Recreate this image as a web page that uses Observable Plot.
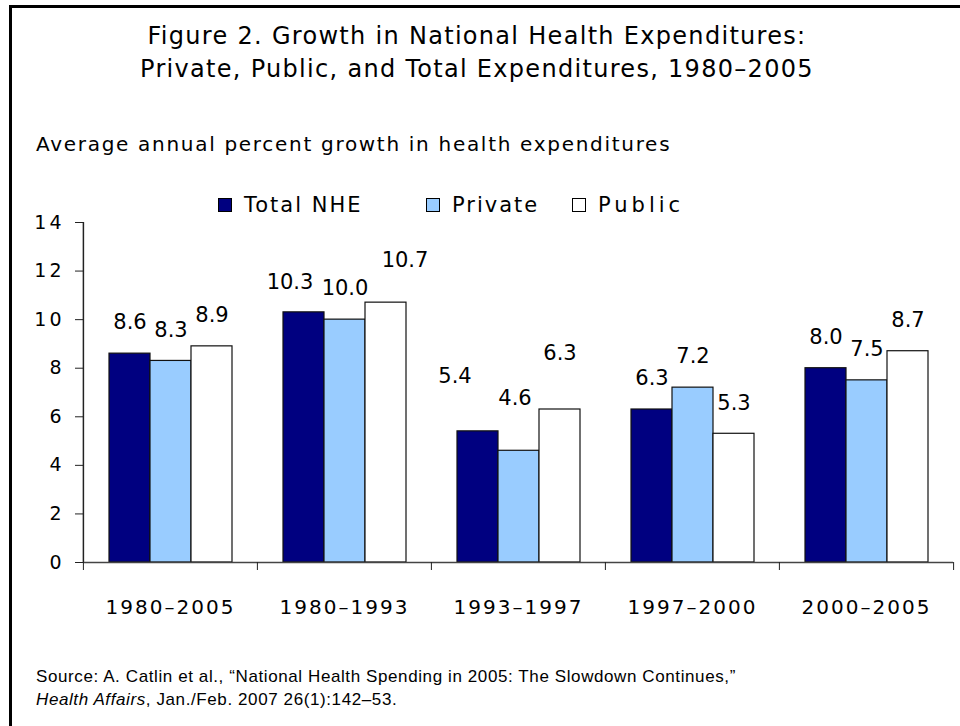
<!DOCTYPE html>
<html>
<head>
<meta charset="utf-8">
<script src="https://cdn.jsdelivr.net/npm/d3@7"></script>
<script src="https://cdn.jsdelivr.net/npm/@observablehq/plot@0.6"></script>
<style>
  html, body { margin: 0; padding: 0; background: #fff; }
  #page { position: relative; width: 960px; height: 726px; overflow: hidden; background: #fff; font-family: "DejaVu Sans", sans-serif; color: #000; }
  #frame { position: absolute; left: 9px; top: 5px; width: 980px; height: 760px; border-left: 3px solid #000; border-top: 3px solid #000; }
  #title { position: absolute; left: 0; top: 20px; width: 954px; text-align: center; font-size: 24px; line-height: 33px; letter-spacing: 1.3px; }
  #subtitle { position: absolute; left: 36px; top: 132px; font-size: 20px; letter-spacing: 1.7px; white-space: nowrap; }
  #legend { position: absolute; top: 193px; left: 0; height: 24px; width: 960px; font-size: 21px; letter-spacing: 2px; }
  .item { position: absolute; top: 0; display: flex; align-items: center; white-space: nowrap; }
  .sw { width: 12px; height: 12px; border: 1px solid #000; margin-right: 12px; }
  #chart { position: absolute; left: 0; top: 200px; }
  #source { position: absolute; left: 36px; top: 665px; font-family: "Liberation Sans", Arial, sans-serif; font-size: 17px; letter-spacing: 0.6px; line-height: 23px; white-space: nowrap; }
  .plot g[aria-label="fx-axis tick label"] text { letter-spacing: 2px; }
  .plot g[aria-label="y-axis tick label"] text { letter-spacing: 3px; }
</style>
</head>
<body>
<div id="page">
  <div id="frame"></div>
  <div id="title">Figure 2. Growth in National Health Expenditures:<br>Private, Public, and Total Expenditures, 1980–2005</div>
  <div id="subtitle">Average annual percent growth in health expenditures</div>
  <div id="legend"></div>
  <div id="chart"></div>
  <div id="source">Source: A. Catlin et al., “National Health Spending in 2005: The Slowdown Continues,”<br><i>Health Affairs</i>, Jan./Feb. 2007 26(1):142–53.</div>
</div>
<script>
// ---- data ----
const periods = ["1980–2005", "1980–1993", "1993–1997", "1997–2000", "2000–2005"];
const series = ["Total NHE", "Private", "Public"];
const totalNHE = [8.6, 10.3, 5.4, 6.3, 8.0];
const privateExp = [8.3, 10.0, 4.6, 7.2, 7.5];
const publicExp = [8.9, 10.7, 6.3, 5.3, 8.7];
const yTicks = [0, 2, 4, 6, 8, 10, 12, 14];
const colors = ["#000080", "#99CCFF", "#FFFFFF"];

const valuesBySeries = [totalNHE, privateExp, publicExp];
const data = [];
periods.forEach((p, i) => {
  series.forEach((s, j) => data.push({period: p, series: s, value: valuesBySeries[j][i]}));
});

// ---- label placement (styling only: the hand-placed labels of the original) ----
const nudgeOf = d => {
  if (d.period === "1980–1993" && d.series === "Public") return [19, -42];
  if (d.period === "1980–1993" && d.series === "Total NHE") return [-14, -30];
  if (d.period === "1993–1997" && d.series === "Total NHE") return [-23, -55];
  if (d.period === "1993–1997" && d.series === "Private") return [-4, -53];
  if (d.period === "1993–1997") return [0, -56];
  return [0, -31];
};
const nudgeGroups = d3.groups(data, d => nudgeOf(d).join(","));

// ---- legend ----
const legendPos = [218, 426, 572];
const legendSpacing = ["2px", "2px", "4px"];
const legend = document.getElementById("legend");
series.forEach((s, j) => {
  const it = document.createElement("div");
  it.className = "item";
  it.style.left = legendPos[j] + "px";
  const sw = document.createElement("span");
  sw.className = "sw";
  sw.style.background = colors[j];
  const tx = document.createElement("span");
  tx.textContent = s;
  tx.style.letterSpacing = legendSpacing[j];
  it.appendChild(sw); it.appendChild(tx);
  legend.appendChild(it);
});

// ---- chart ----
const W = 960, mL = 82, mR = 7;
const bandW = (W - mL - mR) / periods.length;

const chart = Plot.plot({
  width: W,
  height: 422,
  marginLeft: mL,
  marginRight: mR,
  marginTop: 22,
  marginBottom: 60,
  className: "plot",
  style: {fontFamily: "DejaVu Sans, sans-serif", fontSize: "18px", color: "#000", background: "transparent"},
  fx: {domain: periods, padding: 0, label: null},
  x: {domain: series, paddingInner: 0, paddingOuter: 0.6, axis: null},
  y: {domain: [0, 14], label: null},
  color: {domain: series, range: colors},
  marks: [
    Plot.barY(data, {fx: "period", x: "series", y: "value", fill: "series", stroke: "#111", strokeWidth: 1.2}),
    Plot.ruleY([0], {stroke: "#444", strokeWidth: 1.5}),
    Plot.axisY({ticks: yTicks, tickSize: 8, tickPadding: 11, label: null, stroke: "#222", fill: "#000", fontSize: 19}),
    Plot.ruleX([periods[0]], {fx: d => d, x: null, y1: 0, y2: 14, dx: -bandW / 2, stroke: "#222", strokeWidth: 1.5}),
    Plot.axisFx({anchor: "bottom", tickSize: 0, tickPadding: 37, label: null, fontSize: 20, fill: "#000"}),
    Plot.axisFx({anchor: "bottom", tickSize: 8, fill: "none", stroke: "#222", label: null, dx: -bandW / 2}),
    Plot.axisFx({anchor: "bottom", ticks: [periods[periods.length - 1]], tickSize: 8, fill: "none", stroke: "#222", label: null, dx: bandW / 2}),
    ...nudgeGroups.map(([key, rows]) => {
      const [dx, dy] = key.split(",").map(Number);
      return Plot.text(rows, {fx: "period", x: "series", y: "value", text: d => d.value.toFixed(1), dx, dy, fontSize: 21, fill: "#000"});
    })
  ]
});
document.getElementById("chart").appendChild(chart);
</script>
</body>
</html>
